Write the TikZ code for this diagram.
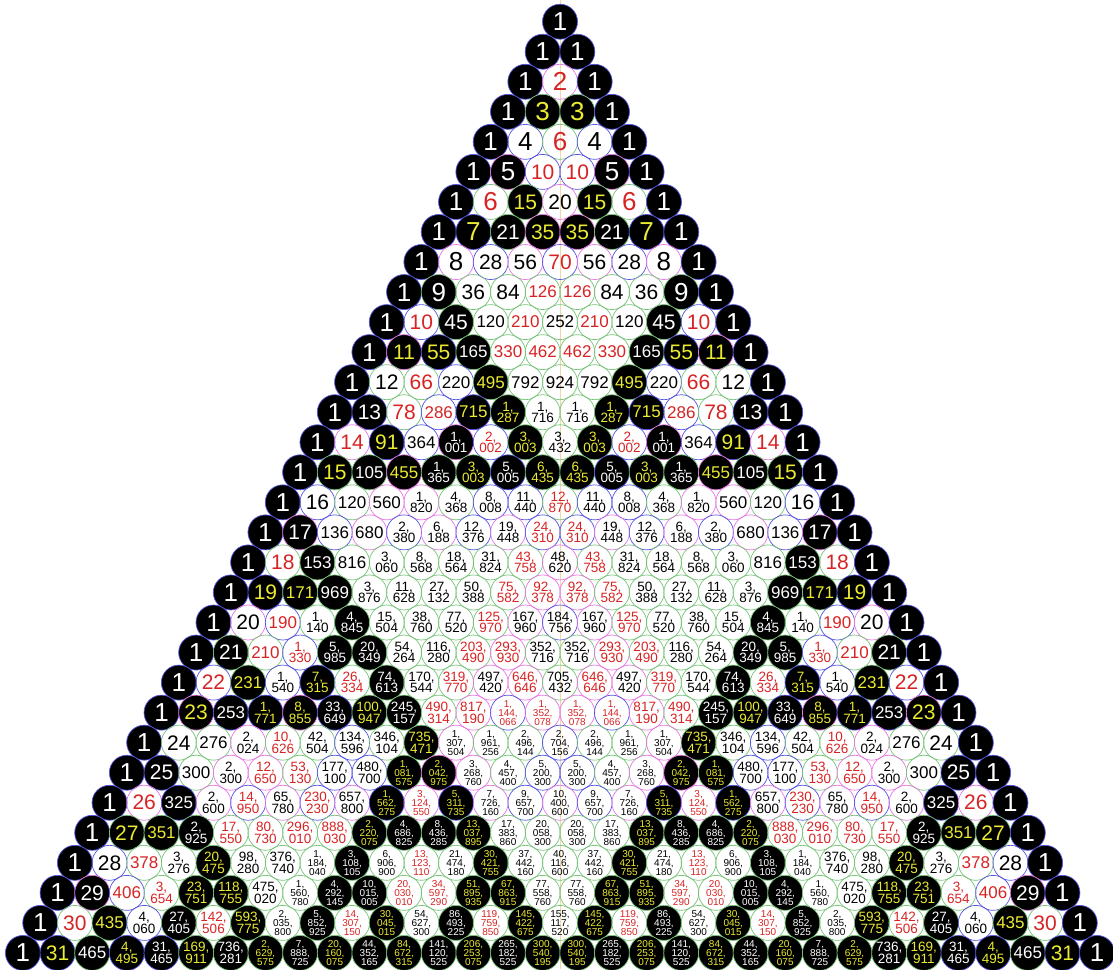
\documentclass[tikz,border=0pt]{standalone}
\usepackage{fontspec}
\setmainfont{Liberation Sans}
\definecolor{pcred}{RGB}{215,35,35}
\definecolor{pcyellow}{RGB}{235,235,50}
\definecolor{pcgreen}{RGB}{120,195,120}
\definecolor{pcblue}{RGB}{85,85,225}
\definecolor{pcpink}{RGB}{230,120,225}
\definecolor{pcaxis}{RGB}{240,215,170}

\makeatletter
\newcount\pc@v \newcount\pc@a \newcount\pc@b \newcount\pc@c \newcount\pc@t
\def\pc@pad#1{\ifnum#1<100 0\fi\ifnum#1<10 0\fi\number#1}
% value of row #1, place #2, from the row above
\def\pcvalue#1#2{%
  \ifnum#2=0 \gdef\pcval{1}\else\ifnum#2=#1 \gdef\pcval{1}\else
    \xdef\pcval{\the\numexpr\csname pv\the\numexpr#1-1\relax-\the\numexpr#2-1\relax\endcsname+\csname pv\the\numexpr#1-1\relax-#2\endcsname\relax}%
  \fi\fi
  \expandafter\xdef\csname pv#1-#2\endcsname{\pcval}}
% groups of three digits, one per line; font, fill and border from the value
\def\pcformat#1{%
  \pc@v=#1\relax
  \pc@a=\pc@v \divide\pc@a by 1000000
  \pc@b=\pc@v \divide\pc@b by 1000
  \pc@t=\pc@a \multiply\pc@t by 1000 \advance\pc@b by -\pc@t
  \pc@c=\pc@v \pc@t=\pc@v \divide\pc@t by 1000 \multiply\pc@t by 1000 \advance\pc@c by -\pc@t
  \ifnum\pc@v<1000
    \xdef\pctext{\number\pc@v}%
  \else\ifnum\pc@v<1000000
    \xdef\pctext{\number\pc@b,\noexpand\\\pc@pad\pc@c}%
  \else
    \xdef\pctext{\number\pc@a,\noexpand\\\pc@pad\pc@b,\noexpand\\\pc@pad\pc@c}%
  \fi\fi
  \ifnum\pc@v<10 \gdef\pcfont{digone}\else
  \ifnum\pc@v<100 \gdef\pcfont{digtwo}\else
  \ifnum\pc@v<1000 \gdef\pcfont{digthree}\else
  \ifnum\pc@v<1000000 \gdef\pcfont{linetwo}\else
  \gdef\pcfont{linethree}\fi\fi\fi\fi
  \pc@t=\pc@v \divide\pc@t by 4 \multiply\pc@t by 4 \pc@a=\pc@v \advance\pc@a by -\pc@t
  \xdef\pcfour{\ifcase\pc@a mfzero\or mfone\or mftwo\else mfthree\fi}%
  \pc@t=\pc@v \divide\pc@t by 3 \multiply\pc@t by 3 \pc@a=\pc@v \advance\pc@a by -\pc@t
  \xdef\pcthree{\ifcase\pc@a mtzero\or mtone\else mttwo\fi}}
\makeatother

\tikzset{
  pcell/.style={circle, minimum size=35pt, inner sep=0pt, line width=0.7pt, align=center},
  digone/.style={font=\fontsize{26}{26}\selectfont},
  digtwo/.style={font=\fontsize{21}{21}\selectfont},
  digthree/.style={font=\fontsize{17}{17}\selectfont},
  linetwo/.style={font=\fontsize{13.5}{11.5}\selectfont},
  linethree/.style={font=\fontsize{10}{9}\selectfont},
  % remainder mod 4 gives fill and text colour
  mfzero/.style={text=black},
  mfone/.style={fill=black, text=white},
  mftwo/.style={text=pcred},
  mfthree/.style={fill=black, text=pcyellow},
  % remainder mod 3 gives the border
  mtzero/.style={draw=pcgreen},
  mtone/.style={draw=pcblue},
  mttwo/.style={draw=pcpink}
}

\begin{document}
\begin{tikzpicture}[x=1pt, y=1pt]
\useasboundingbox (0,0) rectangle (1113,-969);
%The axis down the middle, then the rows one by one
\coordinate (axistop) at (560,0);
\coordinate (axisbot) at (560,-969);
\draw[pcaxis, line width=0.4pt] (axistop) -- (axisbot);
\foreach \n in {0,...,31}{
  \foreach \k in {0,...,\n}{
    \pcvalue{\n}{\k}
    \pcformat{\pcval}
    \node[pcell, \pcfont, \pcfour, \pcthree] (p-\n-\k)
      at ({560+(\k-\n/2)*34.65}, {-21.7-\n*30.04}) {\pctext};
  }
}
\end{tikzpicture}
\end{document}
